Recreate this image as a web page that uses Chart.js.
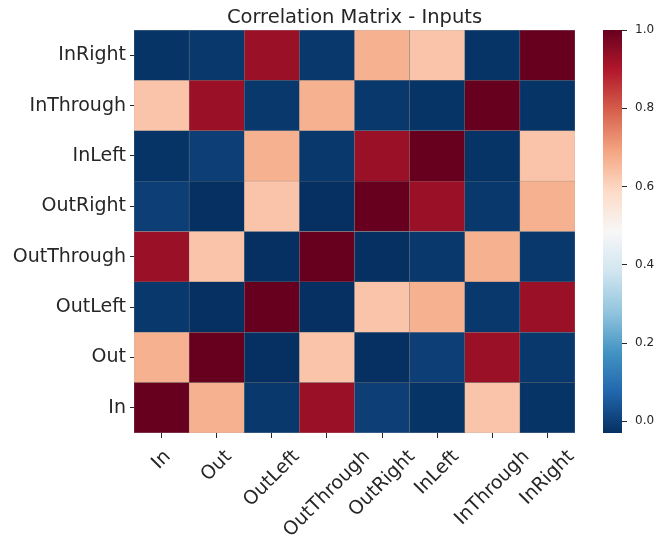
<!DOCTYPE html>
<html>
<head>
<meta charset="utf-8">
<script src="https://cdn.jsdelivr.net/npm/chart.js@4.4.1/dist/chart.umd.min.js"></script>
<style>
  html, body { margin: 0; padding: 0; background: #ffffff; }
  #wrap { position: relative; width: 657px; height: 535px; }
  #wrap canvas { position: absolute; left: 0; top: 0; }
</style>
</head>
<body>
<div id="wrap">
  <canvas id="heat" width="657" height="535"></canvas>
  <canvas id="cbar" width="657" height="535"></canvas>
</div>
<script>
// Variables of the correlation matrix (x order left→right, y order bottom→top)
const variables = ['In', 'Out', 'OutLeft', 'OutThrough', 'OutRight', 'InLeft', 'InThrough', 'InRight'];

// Correlation rows, columns in the same order as `variables`
const rowIn         = [1.00, 0.67, -0.01, 0.93, 0.00, -0.02, 0.63, -0.02];
const rowOut        = [0.67, 1.00, -0.03, 0.63, -0.03, 0.00, 0.93, -0.01];
const rowOutLeft    = [-0.01, -0.03, 1.00, -0.03, 0.63, 0.67, -0.01, 0.93];
const rowOutThrough = [0.93, 0.63, -0.03, 1.00, -0.03, -0.01, 0.67, -0.01];
const rowOutRight   = [0.00, -0.03, 0.63, -0.03, 1.00, 0.93, -0.01, 0.67];
const rowInLeft     = [-0.02, 0.00, 0.67, -0.01, 0.93, 1.00, -0.02, 0.63];
const rowInThrough  = [0.63, 0.93, -0.01, 0.67, -0.01, -0.02, 1.00, -0.02];
const rowInRight    = [-0.02, -0.01, 0.93, -0.01, 0.67, 0.63, -0.02, 1.00];

const corrRows = [rowIn, rowOut, rowOutLeft, rowOutThrough, rowOutRight, rowInLeft, rowInThrough, rowInRight];

// Colour bar ticks
const colorbarTicks = [0, 0.2, 0.4, 0.6, 0.8, 1.0];
const colorbarTickLabels = ['0.0', '0.2', '0.4', '0.6', '0.8', '1.0'];

const titleText = 'Correlation Matrix - Inputs';

const vmin = Math.min(...corrRows.flat());
const vmax = Math.max(...corrRows.flat());

// Diverging RdBu_r palette, blue (low) → red (high)
const rdbuR = ['#053061', '#2166ac', '#4393c3', '#92c5de', '#d1e5f0', '#f7f7f7',
               '#fddbc7', '#f4a582', '#d6604d', '#b2182b', '#67001f'];
const rdbuRgb = rdbuR.map(h => [1, 3, 5].map(k => parseInt(h.slice(k, k + 2), 16)));

function cmap(v) {
  let t = (v - vmin) / (vmax - vmin);
  t = Math.max(0, Math.min(1, t));
  const idx = Math.min(255, Math.floor(t * 256));
  t = idx / 255;
  const p = t * (rdbuRgb.length - 1);
  const i = Math.min(rdbuRgb.length - 2, Math.floor(p));
  const f = p - i;
  const a = rdbuRgb[i], b = rdbuRgb[i + 1];
  const c = a.map((x, k) => Math.round(x + (b[k] - x) * f));
  return `rgb(${c[0]},${c[1]},${c[2]})`;
}

const textColor = '#262626';
const fontFamily = "'DejaVu Sans', sans-serif";
Chart.defaults.font.family = fontFamily;
Chart.defaults.color = textColor;

const W = 657, H = 535;
const heatLeft = 134, heatRight = 575, heatTop = 30, heatBottom = 433;
const tickFontSize = 19;

// One dataset per matrix row: each cell is a floating bar spanning [row, row + 1]
const heatDatasets = corrRows.map((row, j) => ({
  label: variables[j],
  data: row.map(() => [j, j + 1]),
  backgroundColor: row.map(v => cmap(v)),
  borderColor: 'rgba(60,60,60,0.5)',
  borderWidth: 0.5,
  borderSkipped: false,
  grouped: false,
  barPercentage: 1,
  categoryPercentage: 1
}));

// Rotated x labels centred on their ticks, plus the title centred over the grid
const heatText = {
  id: 'heatText',
  afterDraw(chart) {
    const ctx = chart.ctx;
    const xs = chart.scales.x;
    const area = chart.chartArea;
    ctx.save();
    ctx.fillStyle = textColor;
    ctx.font = `${tickFontSize}px ${fontFamily}`;
    ctx.textAlign = 'center';
    ctx.textBaseline = 'middle';
    const lineH = tickFontSize * 1.17;
    variables.forEach((lab, i) => {
      const x = xs.getPixelForTick(i);
      const w = ctx.measureText(lab).width;
      const ext = (w + lineH) * Math.SQRT1_2;
      const cy = area.bottom + 5 + 8 + ext / 2;
      ctx.save();
      ctx.translate(x, cy);
      ctx.rotate(-Math.PI / 4);
      ctx.fillText(lab, 0, 0);
      ctx.restore();
    });
    ctx.font = `19.5px ${fontFamily}`;
    ctx.textBaseline = 'alphabetic';
    ctx.fillText(titleText, (area.left + area.right) / 2, 23);
    ctx.restore();
  }
};

new Chart(document.getElementById('heat'), {
  type: 'bar',
  data: { labels: variables, datasets: heatDatasets },
  options: {
    responsive: false,
    animation: false,
    layout: { padding: { top: heatTop, right: W - heatRight, bottom: 0, left: 0 } },
    plugins: { legend: { display: false }, tooltip: { enabled: false }, title: { display: false } },
    scales: {
      x: {
        type: 'category',
        offset: true,
        grid: { display: true, drawOnChartArea: false, drawTicks: true, tickLength: 5, offset: false, color: textColor, lineWidth: 1 },
        border: { display: false },
        ticks: { autoSkip: false, maxRotation: 0, callback: () => '', padding: 0 },
        afterFit: s => { s.height = H - heatBottom; }
      },
      y: {
        type: 'linear',
        min: 0,
        max: variables.length,
        bounds: 'data',
        afterBuildTicks: s => { s.ticks = variables.map((_, j) => ({ value: j + 0.5 })); },
        grid: { display: true, drawOnChartArea: false, drawTicks: true, tickLength: 4, color: textColor, lineWidth: 1 },
        border: { display: false },
        ticks: {
          autoSkip: false,
          padding: 4,
          font: { size: tickFontSize },
          color: textColor,
          callback: (v) => variables[Math.round(v - 0.5)]
        },
        afterFit: s => { s.width = heatLeft; }
      }
    }
  },
  plugins: [heatText]
});

// Colour bar: a single floating bar from vmin to vmax filled with the palette
const cbLeft = 603, cbRight = 622, cbTop = 30, cbBottom = 433;

new Chart(document.getElementById('cbar'), {
  type: 'bar',
  data: {
    labels: [''],
    datasets: [{
      data: [[vmin, vmax]],
      backgroundColor: (ctx) => {
        const chart = ctx.chart;
        if (!chart.chartArea) return 'rgba(0,0,0,0)';
        const ys = chart.scales.y;
        const g = chart.ctx.createLinearGradient(0, ys.getPixelForValue(vmin), 0, ys.getPixelForValue(vmax));
        rdbuR.forEach((c, i) => g.addColorStop(i / (rdbuR.length - 1), c));
        return g;
      },
      borderWidth: 0,
      barPercentage: 1,
      categoryPercentage: 1
    }]
  },
  options: {
    responsive: false,
    animation: false,
    layout: { padding: { left: cbLeft, top: cbTop, bottom: H - cbBottom, right: 0 } },
    plugins: { legend: { display: false }, tooltip: { enabled: false } },
    scales: {
      x: { display: false },
      y: {
        type: 'linear',
        position: 'right',
        min: vmin,
        max: vmax,
        bounds: 'data',
        afterBuildTicks: s => { s.ticks = colorbarTicks.map(v => ({ value: v })); },
        grid: { display: true, drawOnChartArea: false, drawTicks: true, tickLength: 5, color: textColor, lineWidth: 1 },
        border: { display: false },
        ticks: {
          autoSkip: false,
          padding: 8,
          font: { size: 12 },
          color: textColor,
          callback: (v, i) => colorbarTickLabels[i]
        },
        afterFit: s => { s.width = W - cbRight; }
      }
    }
  }
});
</script>
</body>
</html>
